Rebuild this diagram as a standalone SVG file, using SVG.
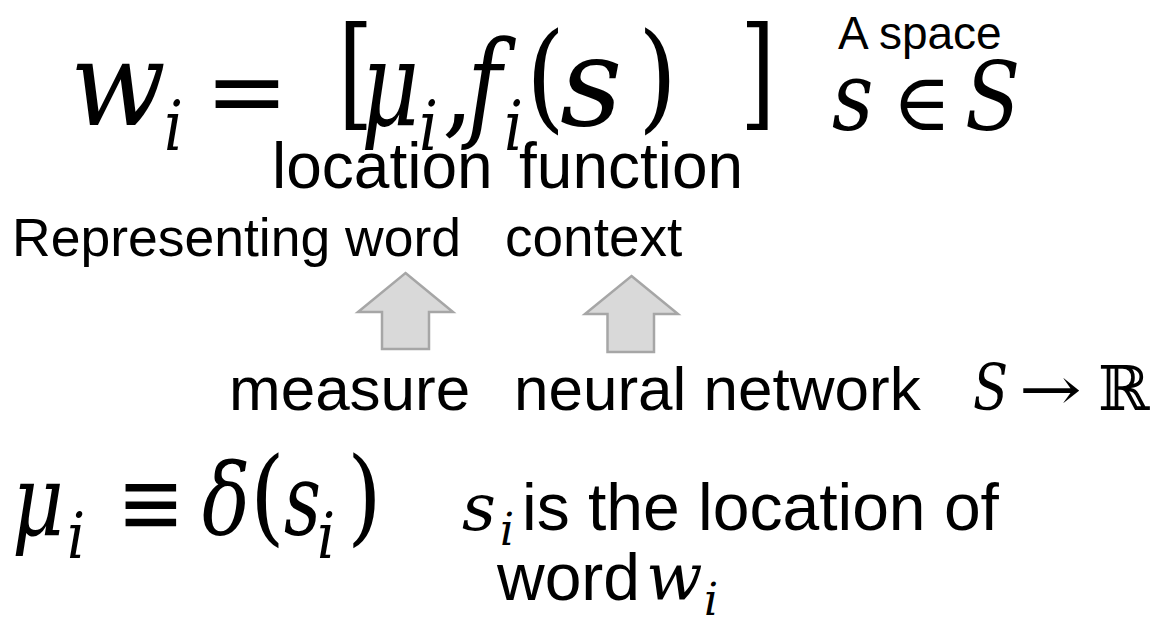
<svg xmlns="http://www.w3.org/2000/svg" width="1168" height="626" viewBox="0 0 1168 626">
<style>
.m{font-family:"DejaVu Serif","Liberation Serif",serif;font-style:italic;fill:#000}
.r{font-family:"DejaVu Serif","Liberation Serif",serif;fill:#000}
.t{font-family:"Liberation Sans",Arial,sans-serif;fill:#000}
.arrow{fill:#d9d9d9;stroke:#a6a6a6;stroke-width:2.5;stroke-linejoin:miter}
</style>
<rect width="1168" height="626" fill="#fff"/>
<g id="formula-top">
<text class="m" font-size="118" transform="translate(70 125) scale(0.95 1)">w</text>
<text class="m" font-size="70" transform="translate(164 150) scale(0.85 1)">i</text>
<text class="r" font-size="100" x="205" y="125">=</text>
<text class="r" font-size="121" transform="translate(338 114) scale(0.75 1)">[</text>
<text class="m" font-size="118" transform="translate(361 125) scale(0.76 1)">μ</text>
<text class="m" font-size="70" transform="translate(419 150) scale(0.85 1)">i</text>
<text class="r" font-size="100" x="442" y="125">,</text>
<text class="m" font-size="118" transform="translate(467 125) scale(0.8 1)">f</text>
<text class="m" font-size="70" transform="translate(504 150) scale(0.85 1)">i</text>
<text class="r" font-size="118" transform="translate(526 117) scale(0.85 1)">(</text>
<text class="m" font-size="124" transform="translate(560 125) scale(0.98 1)">s</text>
<text class="r" font-size="118" transform="translate(638 117) scale(0.85 1)">)</text>
<text class="r" font-size="121" transform="translate(740 114) scale(0.75 1)">]</text>
</g>
<g id="space">
<text class="t" x="838" y="49" font-size="46">A space</text>
<text class="m" font-size="95" transform="translate(832 130) scale(0.85 1)">s</text>
<text class="r" x="892" y="130" font-size="80">∈</text>
<text class="m" font-size="95" transform="translate(965 130) scale(0.85 1)">S</text>
</g>
<g id="labels-top">
<text class="t" x="272" y="188" font-size="64">location</text>
<text class="t" x="519" y="188" font-size="64">function</text>
<text class="t" x="12" y="256" font-size="53.5">Representing word</text>
<text class="t" x="505" y="256" font-size="55">context</text>
</g>
<g id="arrow-left">
<polygon class="arrow" points="405.5,273 453,312 429,312 429,349 382,349 382,312 358,312"/>
</g>
<g id="arrow-right">
<polygon class="arrow" points="631.5,276 678,314 654,314 654,352 607.5,352 607.5,314 585,314"/>
</g>
<g id="labels-mid">
<text class="t" x="229" y="410" font-size="62">measure</text>
<text class="t" x="514" y="410" font-size="62">neural network</text>
<text class="m" font-size="64" transform="translate(973 410) scale(0.8 1)">S</text>
<text class="r" font-size="60" transform="translate(1019 410) scale(1.25 1)">→</text>
<text class="r" x="1098" y="410" font-size="62">ℝ</text>
</g>
<g id="formula-bottom">
<text class="m" font-size="100" transform="translate(12 535) scale(0.8 1)">μ</text>
<text class="m" font-size="63" transform="translate(67 558) scale(0.9 1)">i</text>
<text class="r" font-size="95" transform="translate(117 535) scale(0.85 1)">≡</text>
<text class="m" font-size="100" transform="translate(202 535) scale(0.8 1)">δ</text>
<text class="r" font-size="105" transform="translate(250 532) scale(0.85 1)">(</text>
<text class="m" font-size="100" transform="translate(284 535) scale(0.72 1)">s</text>
<text class="m" font-size="63" transform="translate(317 558) scale(0.9 1)">i</text>
<text class="r" font-size="105" transform="translate(347 532) scale(0.85 1)">)</text>
</g>
<g id="caption">
<text class="m" x="462" y="530" font-size="66">s</text>
<text class="m" x="500" y="545" font-size="44">i</text>
<text class="t" x="522" y="530" font-size="66">is the location of</text>
<text class="t" x="497" y="600" font-size="66">word</text>
<text class="m" x="646" y="600" font-size="66">w</text>
<text class="m" x="704" y="615" font-size="44">i</text>
</g>
</svg>
